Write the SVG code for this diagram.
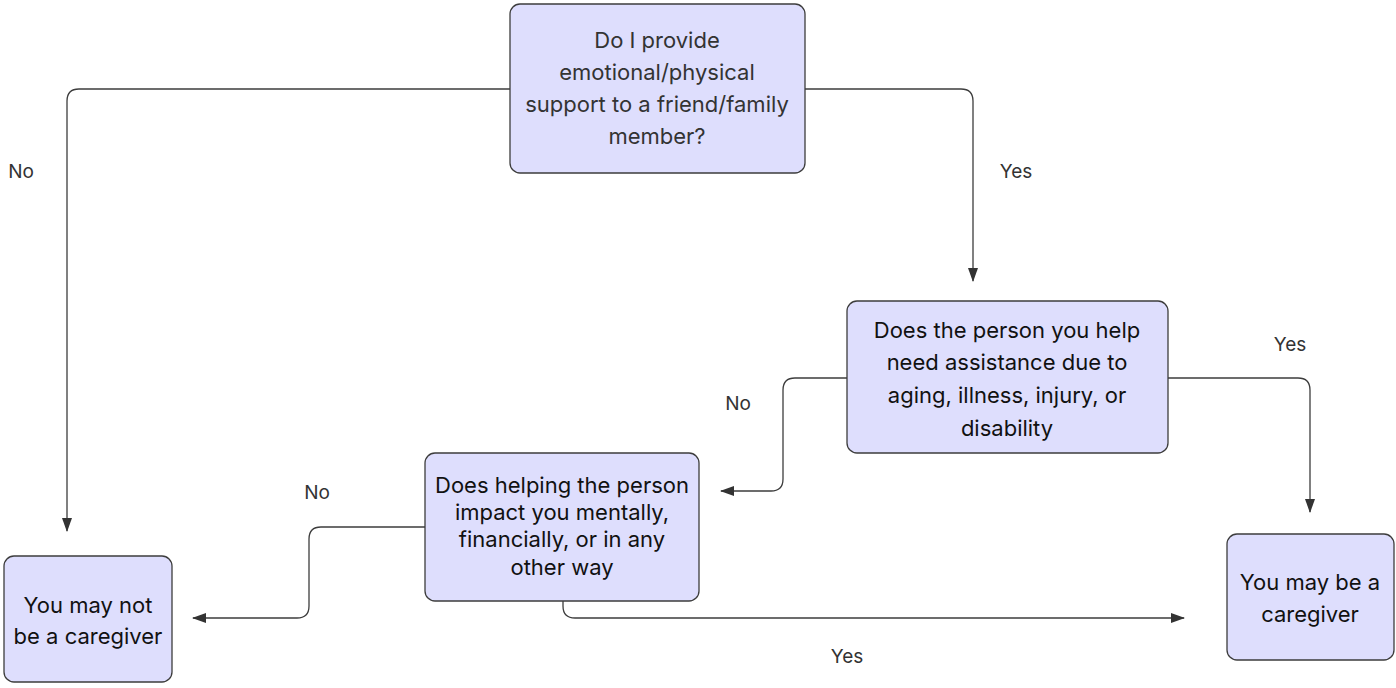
<svg xmlns="http://www.w3.org/2000/svg" width="1396" height="688" viewBox="0 0 1396 688">
<style>
.n{fill:#dedefd;stroke:#3d3d3d;stroke-width:1.3}
.t{font-family:Inter,"Noto Sans",sans-serif;font-size:22px;fill:#111;text-anchor:middle}
.l{font-family:Inter,"Noto Sans",sans-serif;font-size:19px;fill:#333;text-anchor:middle}
.c{fill:none;stroke:#3d3d3d;stroke-width:1.3}
</style>
<defs>
<marker id="a" viewBox="0 0 14 10" refX="13" refY="5" markerWidth="14" markerHeight="10" markerUnits="userSpaceOnUse" orient="auto">
<path d="M0,0L14,5L0,10z" fill="#333"/>
</marker>
</defs>
<rect width="1396" height="688" fill="#fff"/>
<g id="connectors">
<path class="c" d="M510,89H79Q67,89 67,101V531" marker-end="url(#a)"/>
<path class="c" d="M805,89H961Q973,89 973,101V281" marker-end="url(#a)"/>
<path class="c" d="M1168,378H1298Q1310,378 1310,390V512" marker-end="url(#a)"/>
<path class="c" d="M847,378H795Q783,378 783,390V479Q783,491 771,491H721" marker-end="url(#a)"/>
<path class="c" d="M425,527H321Q309,527 309,539V606Q309,618 297,618H193" marker-end="url(#a)"/>
<path class="c" d="M563,601V606Q563,618 575,618H1184" marker-end="url(#a)"/>
<text class="l" x="21" y="178">No</text>
<text class="l" x="1016" y="178">Yes</text>
<text class="l" x="1290" y="351">Yes</text>
<text class="l" x="738" y="410">No</text>
<text class="l" x="317" y="499">No</text>
<text class="l" x="847" y="663">Yes</text>
</g>
<g id="n1">
<rect class="n" x="510" y="4" width="295" height="169" rx="10"/>
<text class="t" style="fill:#333" x="657" y="48">Do I provide</text>
<text class="t" style="fill:#333" x="657" y="80">emotional/physical</text>
<text class="t" style="fill:#333" x="657" y="112">support to a friend/family</text>
<text class="t" style="fill:#333" x="657" y="144">member?</text>
</g>
<g id="n2">
<rect class="n" x="847" y="301" width="321" height="152" rx="10"/>
<text class="t" x="1007" y="338">Does the person you help</text>
<text class="t" x="1007" y="370">need assistance due to</text>
<text class="t" x="1007" y="403">aging, illness, injury, or</text>
<text class="t" x="1007" y="436">disability</text>
</g>
<g id="n3">
<rect class="n" x="425" y="453" width="274" height="148" rx="10"/>
<text class="t" x="562" y="493">Does helping the person</text>
<text class="t" x="562" y="520">impact you mentally,</text>
<text class="t" x="562" y="547">financially, or in any</text>
<text class="t" x="562" y="575">other way</text>
</g>
<g id="n4">
<rect class="n" x="4" y="556" width="168" height="126" rx="10"/>
<text class="t" x="88" y="613">You may not</text>
<text class="t" x="88" y="644">be a caregiver</text>
</g>
<g id="n5">
<rect class="n" x="1227" y="534" width="167" height="126" rx="10"/>
<text class="t" x="1310" y="590">You may be a</text>
<text class="t" x="1310" y="622">caregiver</text>
</g>
</svg>
